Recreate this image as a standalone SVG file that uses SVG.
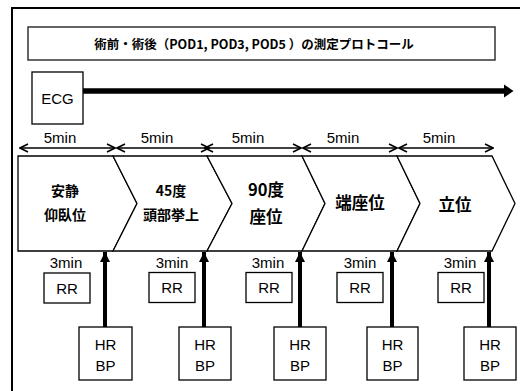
<svg xmlns="http://www.w3.org/2000/svg" width="520" height="391" viewBox="0 0 520 391">
<defs>
<style>
.box{fill:#fff;stroke:#000;stroke-width:1.3}
.tbox{fill:#fff;stroke:#333;stroke-width:1.5}
.chev{fill:#fff;stroke:#000;stroke-width:1.3;stroke-linejoin:miter}
.t{font-family:"Liberation Sans","Noto Sans",sans-serif;font-size:15px;fill:#000;text-anchor:middle}
.j{font-family:"Noto Sans CJK JP","Noto Sans",sans-serif;font-weight:bold;fill:#000;text-anchor:middle}
.dim{stroke:#000;stroke-width:1.5;fill:none}
.up{stroke:#000;stroke-width:4;fill:none}
</style>
<marker id="open" viewBox="0 0 10 10" refX="9" refY="5" markerWidth="10" markerHeight="10" markerUnits="userSpaceOnUse" orient="auto-start-reverse">
<path d="M1,1 L9,5 L1,9" fill="none" stroke="#000" stroke-width="1.6"/>
</marker>
<marker id="solid" viewBox="0 0 10 10" refX="10" refY="5" markerWidth="10" markerHeight="10" markerUnits="userSpaceOnUse" orient="auto">
<path d="M0,0 L10,5 L0,10 Z" fill="#000"/>
</marker>
</defs>
<rect x="0" y="0" width="520" height="391" fill="#fff"/>
<rect x="12" y="8" width="520" height="400" fill="none" stroke="#000" stroke-width="2"/>

<g id="title">
<rect class="tbox" x="28" y="27" width="467" height="33"/>
<text class="j" x="254" y="48.5" font-size="12.5">術前・術後（POD1, POD3, POD5 ）の測定プロトコール</text>
</g>

<g id="ecg">
<rect class="box" x="32" y="72" width="51" height="52"/>
<text class="t" x="57.5" y="104" font-size="14">ECG</text>
</g>

<g id="connectors">
<line x1="83" y1="91" x2="506" y2="91" stroke="#000" stroke-width="5.5"/>
<path d="M504,84.5 L513.5,91 L504,97.5 Z" fill="#000"/>
<line class="dim" x1="20" y1="148" x2="115" y2="148" marker-start="url(#open)" marker-end="url(#open)"/>
<line class="dim" x1="117" y1="148" x2="209" y2="148" marker-start="url(#open)" marker-end="url(#open)"/>
<line class="dim" x1="205" y1="148" x2="301" y2="148" marker-start="url(#open)" marker-end="url(#open)"/>
<line class="dim" x1="303" y1="148" x2="397" y2="148" marker-start="url(#open)" marker-end="url(#open)"/>
<line class="dim" x1="399" y1="148" x2="493" y2="148" marker-start="url(#open)" marker-end="url(#open)"/>
<line class="up" x1="105" y1="327" x2="105" y2="252" marker-end="url(#solid)"/>
<line class="up" x1="204" y1="327" x2="204" y2="252" marker-end="url(#solid)"/>
<line class="up" x1="300" y1="327" x2="300" y2="252" marker-end="url(#solid)"/>
<line class="up" x1="392" y1="327" x2="392" y2="252" marker-end="url(#solid)"/>
<line class="up" x1="489" y1="327" x2="489" y2="252" marker-end="url(#solid)"/>
</g>

<g id="dims">
<text class="t" x="60" y="143">5min</text>
<text class="t" x="157" y="143">5min</text>
<text class="t" x="248" y="143">5min</text>
<text class="t" x="343" y="143">5min</text>
<text class="t" x="439" y="143">5min</text>
</g>

<g id="stage1">
<polygon class="chev" points="18,156 113,156 137,203.5 113,251 18,251"/>
<text class="j" x="65" y="196" font-size="14">安静</text>
<text class="j" x="65" y="219.5" font-size="14">仰臥位</text>
</g>
<g id="stage2">
<polygon class="chev" points="113,156 207,156 232,203.5 207,251 113,251 137,203.5"/>
<text class="j" x="171" y="196" font-size="14">45度</text>
<text class="j" x="171" y="219.5" font-size="14">頭部挙上</text>
</g>
<g id="stage3">
<polygon class="chev" points="207,156 302,156 325,203.5 302,251 207,251 232,203.5"/>
<text class="j" x="266" y="196" font-size="16.5">90度</text>
<text class="j" x="266" y="223" font-size="16.5">座位</text>
</g>
<g id="stage4">
<polygon class="chev" points="302,156 397,156 420,203.5 397,251 302,251 325,203.5"/>
<text class="j" x="360" y="209" font-size="16.5">端座位</text>
</g>
<g id="stage5">
<polygon class="chev" points="397,156 492,156 515,203.5 492,251 397,251 420,203.5"/>
<text class="j" x="455" y="211" font-size="16.5">立位</text>
</g>

<g id="rr1"><text class="t" x="66" y="268">3min</text><rect class="box" x="44" y="273" width="46" height="30"/><text class="t" x="67" y="293.5">RR</text></g>
<g id="rr2"><text class="t" x="172" y="268">3min</text><rect class="box" x="149" y="272.5" width="46" height="30"/><text class="t" x="172" y="293">RR</text></g>
<g id="rr3"><text class="t" x="268" y="268">3min</text><rect class="box" x="246" y="272.5" width="46" height="30"/><text class="t" x="269" y="293">RR</text></g>
<g id="rr4"><text class="t" x="360" y="268">3min</text><rect class="box" x="337" y="272.5" width="46" height="30"/><text class="t" x="360" y="293">RR</text></g>
<g id="rr5"><text class="t" x="460" y="268">3min</text><rect class="box" x="438" y="272.5" width="46" height="30"/><text class="t" x="461" y="293">RR</text></g>

<g id="hrbp1"><rect class="box" x="79" y="327" width="53" height="53"/><text class="t" x="105.5" y="350">HR</text><text class="t" x="105.5" y="371">BP</text></g>
<g id="hrbp2"><rect class="box" x="179" y="327" width="52" height="53"/><text class="t" x="205" y="350">HR</text><text class="t" x="205" y="371">BP</text></g>
<g id="hrbp3"><rect class="box" x="274" y="327" width="52" height="53"/><text class="t" x="300" y="350">HR</text><text class="t" x="300" y="371">BP</text></g>
<g id="hrbp4"><rect class="box" x="367" y="327" width="51" height="53"/><text class="t" x="392.5" y="350">HR</text><text class="t" x="392.5" y="371">BP</text></g>
<g id="hrbp5"><rect class="box" x="464" y="327" width="52" height="53"/><text class="t" x="490" y="350">HR</text><text class="t" x="490" y="371">BP</text></g>
</svg>
